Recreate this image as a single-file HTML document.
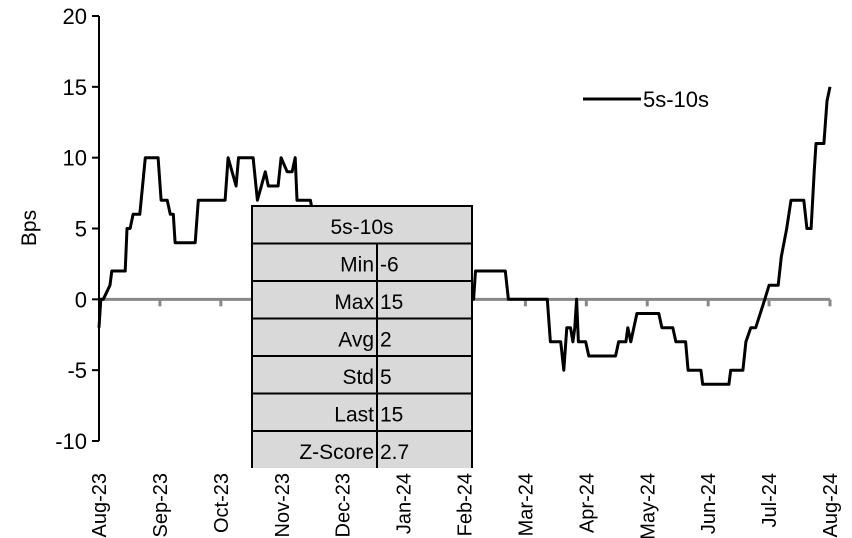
<!DOCTYPE html>
<html><head><meta charset="utf-8"><style>
body{margin:0;background:#fff;}
svg{display:block;font-family:"Liberation Sans",Arial,sans-serif;}
</style></head><body>
<svg id="chart" width="852" height="538" viewBox="0 0 852 538" xmlns="http://www.w3.org/2000/svg">
<g id="grid"></g>
<g id="series"></g>
<g id="axes"></g>
<g id="legend">
  <line x1="583" y1="99" x2="641" y2="99" stroke="#000" stroke-width="3"/>
  <text x="643" y="107" font-size="22">5s-10s</text>
</g>
<g id="table"></g>
</svg>
<script>
const monthLabels=["Aug-23","Sep-23","Oct-23","Nov-23","Dec-23","Jan-24","Feb-24","Mar-24","Apr-24","May-24","Jun-24","Jul-24","Aug-24"];
const yTicks=[-10,-5,0,5,10,15,20];
const seriesX=[0,0.03,0.07,0.18,0.21,0.43,0.46,0.51,0.56,0.67,0.76,0.97,1.02,1.12,1.17,1.22,1.25,1.58,1.63,2.07,2.12,2.25,2.29,2.53,2.60,2.73,2.78,2.94,2.99,3.09,3.17,3.22,3.25,3.47,3.6,4.5,5.5,6.1,6.15,6.18,6.67,6.72,7.36,7.41,7.58,7.63,7.68,7.74,7.78,7.81,7.84,7.87,7.99,8.04,8.48,8.53,8.65,8.68,8.73,8.83,9.19,9.24,9.42,9.47,9.63,9.67,9.88,9.91,10.34,10.37,10.57,10.62,10.70,10.78,10.93,11.0,11.15,11.2,11.29,11.36,11.57,11.62,11.69,11.74,11.77,11.90,11.95,12];
const seriesY=[-2,0,0,1,2,2,5,5,6,6,10,10,7,7,6,6,4,4,7,7,10,8,10,10,7,9,8,8,10,9,9,10,7,7,4,3,2,1,0,2,2,0,0,-3,-3,-5,-2,-2,-3,-2,0,-3,-3,-4,-4,-3,-3,-2,-3,-1,-1,-2,-2,-3,-3,-5,-5,-6,-6,-5,-5,-3,-2,-2,0,1,1,3,5,7,7,5,5,9,11,11,14,15];
const statLabels=["Min","Max","Avg","Std","Last","Z-Score"];
const statValues=["-6","15","2","5","15","2.7"];

const NS="http://www.w3.org/2000/svg";
function el(tag,attrs,parent){const e=document.createElementNS(NS,tag);for(const k in attrs)e.setAttribute(k,attrs[k]);parent.appendChild(e);return e;}
const x0=99,x1=830,yTop=16,yBot=441;
function xs(m){return x0+(x1-x0)*m/12;}
function ys(v){return yBot-(v+10)/30*(yBot-yTop);}

const axes=document.getElementById('axes');
const zl=el('line',{x1:x0,y1:ys(0),x2:x1,y2:ys(0),stroke:'#888','stroke-width':3},document.getElementById('grid'));


monthLabels.forEach((lab,i)=>{
  if(i>0){const t=el('line',{x1:xs(i),y1:ys(0),x2:xs(i),y2:ys(0)+7,stroke:'#888','stroke-width':3},document.getElementById('grid'));
  
  }
  const tx=el('text',{x:0,y:0,'font-size':20,'text-anchor':'end',transform:`translate(${xs(i)+7},473) rotate(-90)`},axes);
  tx.textContent=lab;
  
  
});
const ya=el('line',{x1:x0,y1:yTop,x2:x0,y2:yBot,stroke:'#000','stroke-width':2},axes);


yTicks.forEach(v=>{
  const t=el('line',{x1:x0-7,y1:ys(v),x2:x0,y2:ys(v),stroke:'#000','stroke-width':2},axes);
  
  
  const tx=el('text',{x:87,y:ys(v)+8,'font-size':22,'text-anchor':'end'},axes);
  tx.textContent=v;
  
  
});
const yt=el('text',{x:0,y:0,'font-size':21,'text-anchor':'middle',transform:'translate(36,228) rotate(-90)'},axes);
yt.textContent='Bps';



const pts=seriesX.map((m,i)=>xs(m).toFixed(1)+','+ys(seriesY[i]).toFixed(1)).join(' ');
const pl=el('polyline',{points:pts,fill:'none',stroke:'#000','stroke-width':3,'stroke-linejoin':'round'},document.getElementById('series'));



const tb=document.getElementById('table');
const L=252,R=472,C=377,T=206,rh=37.5,B=468;
const bg=el('rect',{x:L,y:T,width:R-L,height:B-T,fill:'#d9d9d9'},tb);


const h=el('text',{x:(L+R)/2,y:T+28,'font-size':21,'text-anchor':'middle'},tb);
h.textContent='5s-10s';


el('path',{d:`M${L},${B} V${T} H${R} V${B}`,fill:'none',stroke:'#000','stroke-width':2},tb);
el('line',{x1:C,y1:T+rh,x2:C,y2:B,stroke:'#000','stroke-width':2},tb);
statLabels.forEach((lab,i)=>{
  const y=T+rh*(i+1);
  el('line',{x1:L,y1:y,x2:R,y2:y,stroke:'#000','stroke-width':2},tb);
  const a=el('text',{x:C-3,y:y+28,'font-size':21,'text-anchor':'end'},tb);
  a.textContent=lab;
  
  
  const b=el('text',{x:C+3,y:y+28,'font-size':21},tb);
  b.textContent=statValues[i];
  
  
});
</script>
</body></html>
